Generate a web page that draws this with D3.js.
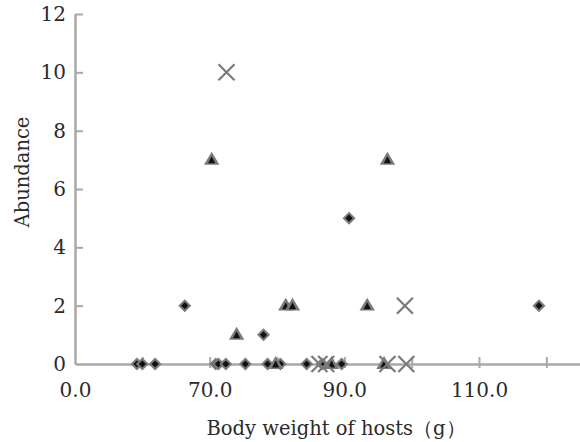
<!DOCTYPE html>
<html>
<head>
<meta charset="utf-8">
<script src="https://cdn.jsdelivr.net/npm/d3@7"></script>
<style>
  body { margin: 0; background: #fff; }
  text { font-family: "DejaVu Serif", "Liberation Serif", serif; fill: #2b2b2b; }
</style>
</head>
<body>
<div id="chart"></div>
<script>
// diamonds
const diamondX = [59.2, 60.0, 61.9, 70.9, 71.3, 72.4, 75.3, 78.6, 80.5, 84.4, 86.7, 89.6, 66.3, 78.0, 90.7, 118.9];
const diamondY = [0, 0, 0, 0, 0, 0, 0, 0, 0, 0, 0, 0, 2, 1, 5, 2];
// triangles
const triangleX = [79.8, 88.1, 95.9, 70.3, 96.4, 81.3, 82.3, 93.4, 74.0];
const triangleY = [0, 0, 0, 7, 7, 2, 2, 2, 1];
// crosses
const crossX = [86.3, 87.3, 96.4, 99.2, 72.5, 99.0];
const crossY = [0, 0, 0, 0, 10, 2];

const xTicks = [50, 60, 70, 80, 90, 100, 110, 120];
const xTickLabels = { 50: '0.0', 70: '70.0', 90: '90.0', 110: '110.0' };
const yTicks = [0, 2, 4, 6, 8, 10, 12];

const width = 580;
const height = 442;
const margin = { top: 14, right: 0, bottom: 78, left: 75 };

const svg = d3.select('#chart')
  .append('svg')
  .attr('width', width)
  .attr('height', height);

const x = d3.scaleLinear()
  .domain([50, 125])
  .range([margin.left, width - margin.right]);

const y = d3.scaleLinear()
  .domain([0, 12])
  .range([height - margin.bottom, margin.top]);

const axisColor = '#a9a9a9';

// x axis
const xAxis = svg.append('g')
  .attr('transform', `translate(0, ${y(0)})`)
  .call(d3.axisBottom(x)
    .tickValues(xTicks)
    .tickSizeOuter(0)
    .tickFormat((d) => xTickLabels[d] || ''));
xAxis.select('.domain').attr('stroke', axisColor).attr('stroke-width', 2.5);
xAxis.selectAll('.tick line')
  .attr('stroke', axisColor)
  .attr('stroke-width', 2)
  .attr('y1', -7)
  .attr('y2', 4)
  .filter((d) => d === 50)
  .remove();
xAxis.selectAll('.tick text')
  .attr('y', 33)
  .attr('dy', 0)
  .style('font-size', '20px')
  .attr('fill', '#2b2b2b');

// y axis
const yAxis = svg.append('g')
  .attr('transform', `translate(${x(50)}, 0)`)
  .call(d3.axisLeft(y)
    .tickValues(yTicks)
    .tickSizeInner(-8)
    .tickSizeOuter(0)
    .tickPadding(9));
yAxis.select('.domain').attr('stroke', axisColor).attr('stroke-width', 2.5);
yAxis.selectAll('.tick line').attr('stroke', axisColor).attr('stroke-width', 2);
yAxis.selectAll('.tick line').filter((d) => d === 0).remove();
yAxis.selectAll('.tick text')
  .style('font-size', '20px')
  .attr('fill', '#2b2b2b');

// axis titles
svg.append('text')
  .attr('x', 336)
  .attr('y', 435)
  .attr('text-anchor', 'middle')
  .style('font-size', '19.5px')
  .text('Body weight of hosts（g）');

svg.append('text')
  .attr('transform', 'translate(29, 172) rotate(-90)')
  .attr('text-anchor', 'middle')
  .style('font-size', '19.5px')
  .text('Abundance');

const markerGray = '#7a7a7a';
const plot = svg.append('g');

const diamonds = diamondX.map((v, i) => ({ x: v, y: diamondY[i] }));
const triangles = triangleX.map((v, i) => ({ x: v, y: triangleY[i] }));
const crosses = crossX.map((v, i) => ({ x: v, y: crossY[i] }));

const diamondPath = (r) => `M0,${-r}L${r},0L0,${r}L${-r},0Z`;
const trianglePath = (r) => `M0,${-r}L${r * 1.1},${r * 0.85}L${-r * 1.1},${r * 0.85}Z`;

// diamonds
const dg = plot.selectAll('.diamond')
  .data(diamonds)
  .enter()
  .append('g')
  .attr('transform', (d) => `translate(${x(d.x)}, ${y(d.y)})`);
dg.append('path').attr('d', diamondPath(6.5)).attr('fill', markerGray);
dg.append('path').attr('d', diamondPath(3.6)).attr('fill', '#111');

// triangles
const tg = plot.selectAll('.triangle')
  .data(triangles)
  .enter()
  .append('g')
  .attr('transform', (d) => `translate(${x(d.x)}, ${y(d.y) - 1})`);
tg.append('path').attr('d', trianglePath(7)).attr('fill', markerGray);
tg.append('path').attr('d', 'M0,-2.5L3.6,4.5L-3.6,4.5Z').attr('fill', '#111');

// crosses
plot.selectAll('.cross')
  .data(crosses)
  .enter()
  .append('path')
  .attr('transform', (d) => `translate(${x(d.x)}, ${y(d.y)})`)
  .attr('d', 'M-8,-8L8,8M8,-8L-8,8')
  .attr('stroke', markerGray)
  .attr('stroke-width', 2.2)
  .attr('fill', 'none');
</script>
</body>
</html>
